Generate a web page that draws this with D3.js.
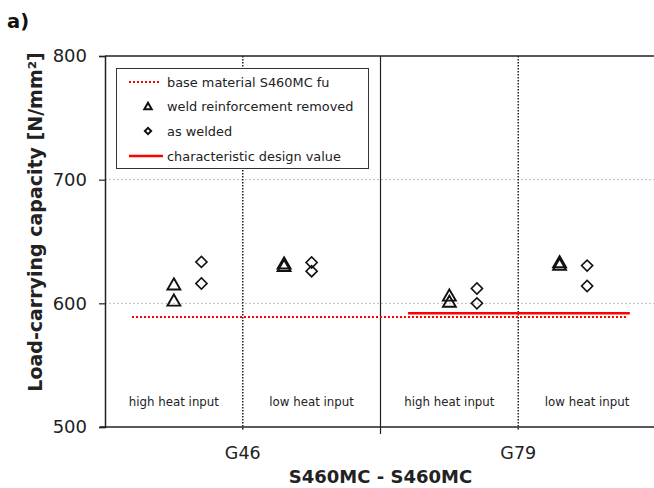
<!DOCTYPE html>
<html>
<head>
<meta charset="utf-8">
<script src="https://cdn.jsdelivr.net/npm/d3@7"></script>
<style>
  html, body { margin: 0; padding: 0; background: #fff; }
  svg { display: block; font-family: "DejaVu Sans", Verdana, sans-serif; }
</style>
</head>
<body>
<svg id="chart" width="654" height="488"></svg>
<script>
// Weld groups and the heat-input sections inside each group
const groups = ["G46", "G79"];
const sections = ["high heat input", "low heat input", "high heat input", "low heat input"];

// Load-carrying capacity [N/mm²] per section
const reinforcementRemoved = [[615, 602], [632, 630], [606, 601], [633, 631]];
const asWelded = [[633.5, 616], [633, 626], [612, 600], [630.5, 614]];

// Reference levels
const baseMaterialFu = 589;
const designValue = 592;

const yTicks = [500, 600, 700, 800];

const svg = d3.select("#chart");
const margin = { left: 105, top: 56, right: -2, bottom: 61 };
const W = 654, H = 488;

const x = d3.scaleLinear().domain([0, 4]).range([margin.left, W - margin.right]);
const y = d3.scaleLinear().domain([500, 800]).range([H - margin.bottom, margin.top]);

// Horizontal position of each marker column within a section (section units)
const triSlot = i => i + (i % 2 === 0 ? 0.5 : 0.3);
const diaSlot = i => i + (i % 2 === 0 ? 0.7 : 0.5);

// Horizontal gridlines
svg.append("g").selectAll("line").data([600, 700]).join("line")
  .attr("x1", x(0)).attr("x2", x(4))
  .attr("y1", d => y(d)).attr("y2", d => y(d))
  .attr("stroke", "#bdbdbd").attr("stroke-width", 1).attr("stroke-dasharray", "2,2");

// Section separators: dotted inside a group, solid between groups
svg.append("g").selectAll("line").data([1, 3]).join("line")
  .attr("x1", d => x(d)).attr("x2", d => x(d))
  .attr("y1", y(800)).attr("y2", y(500) + 3)
  .attr("stroke", "#222").attr("stroke-width", 1.5).attr("stroke-dasharray", "1.5,1.5");
svg.append("line")
  .attr("x1", x(2)).attr("x2", x(2)).attr("y1", y(800)).attr("y2", y(500) + 7)
  .attr("stroke", "#222").attr("stroke-width", 1.2);

// Frame: top border and bottom axis
svg.append("line").attr("x1", x(0)).attr("x2", x(4)).attr("y1", y(800)).attr("y2", y(800))
  .attr("stroke", "#222").attr("stroke-width", 1.5);
svg.append("line").attr("x1", x(0) - 5).attr("x2", x(4)).attr("y1", y(500)).attr("y2", y(500))
  .attr("stroke", "#222").attr("stroke-width", 1.5);

// Y axis
const yAxis = d3.axisLeft(y).tickValues(yTicks).tickSize(6).tickPadding(12).tickFormat(d3.format("d"));
const gy = svg.append("g").attr("transform", `translate(${x(0)},0)`).call(yAxis);
gy.select(".domain").attr("stroke", "#222").attr("stroke-width", 1.5);
gy.selectAll(".tick line").attr("stroke", "#222").attr("stroke-width", 1.2);
gy.selectAll(".tick text").attr("font-size", 18).attr("fill", "#222")
  .attr("font-family", "DejaVu Sans, Verdana, sans-serif");

// Group labels under the axis
svg.append("g").selectAll("text").data(groups).join("text")
  .attr("x", (d, i) => x(1 + 2 * i)).attr("y", y(500) + 32)
  .attr("text-anchor", "middle").attr("font-size", 17.5).attr("fill", "#222")
  .text(d => d);

// Heat-input labels
svg.append("g").selectAll("text").data(sections).join("text")
  .attr("x", (d, i) => x(i + 0.5)).attr("y", y(500) - 21)
  .attr("text-anchor", "middle").attr("font-size", 11.8).attr("fill", "#222")
  .text(d => d);

// Reference lines
svg.append("line")
  .attr("x1", x(0.196)).attr("x2", x(3.79)).attr("y1", y(baseMaterialFu)).attr("y2", y(baseMaterialFu))
  .attr("stroke", "#f00").attr("stroke-width", 2).attr("stroke-dasharray", "2,2");
svg.append("line")
  .attr("x1", x(2.2)).attr("x2", x(3.81)).attr("y1", y(designValue)).attr("y2", y(designValue))
  .attr("stroke", "#f00").attr("stroke-width", 2.5);

// Markers
const tri = d3.symbol().type(d3.symbolTriangle).size(72);
const dia = d3.symbol().type(d3.symbolSquare).size(62);

const triPts = reinforcementRemoved.flatMap((vals, i) => vals.map(v => ({ i, v })));
const diaPts = asWelded.flatMap((vals, i) => vals.map(v => ({ i, v })));

svg.append("g").selectAll("path").data(triPts).join("path")
  .attr("d", tri)
  .attr("transform", d => `translate(${x(triSlot(d.i))},${y(d.v) + 1})`)
  .attr("fill", "none").attr("stroke", "#111").attr("stroke-width", 1.9);

svg.append("g").selectAll("path").data(diaPts).join("path")
  .attr("d", dia)
  .attr("transform", d => `translate(${x(diaSlot(d.i))},${y(d.v)}) rotate(45)`)
  .attr("fill", "none").attr("stroke", "#111").attr("stroke-width", 1.6);

// Legend
const lg = svg.append("g");
lg.append("rect").attr("x", 116.5).attr("y", 68.5).attr("width", 252).attr("height", 100)
  .attr("fill", "#fff").attr("stroke", "#333").attr("stroke-width", 1);
const rows = [82, 106, 131, 156];
const labels = ["base material S460MC fu", "weld reinforcement removed", "as welded", "characteristic design value"];
lg.selectAll("text").data(labels).join("text")
  .attr("x", 167).attr("y", (d, i) => rows[i] + 5)
  .attr("font-size", 12.9).attr("fill", "#222").text(d => d);
lg.append("line").attr("x1", 129).attr("x2", 161).attr("y1", rows[0]).attr("y2", rows[0])
  .attr("stroke", "#f00").attr("stroke-width", 2).attr("stroke-dasharray", "2,2");
lg.append("line").attr("x1", 129).attr("x2", 163).attr("y1", rows[3]).attr("y2", rows[3])
  .attr("stroke", "#f00").attr("stroke-width", 2.5);
lg.append("path").attr("d", d3.symbol().type(d3.symbolTriangle).size(24))
  .attr("transform", `translate(148,${rows[1] + 1})`)
  .attr("fill", "none").attr("stroke", "#111").attr("stroke-width", 2);
lg.append("path").attr("d", d3.symbol().type(d3.symbolSquare).size(20))
  .attr("transform", `translate(148,${rows[2]}) rotate(45)`)
  .attr("fill", "none").attr("stroke", "#111").attr("stroke-width", 2);

// Axis titles
svg.append("text")
  .attr("transform", `translate(42,222) rotate(-90)`)
  .attr("text-anchor", "middle").attr("font-size", 19).attr("font-weight", "bold").attr("fill", "#222")
  .text("Load-carrying capacity [N/mm²]");
svg.append("text")
  .attr("x", x(2)).attr("y", 483)
  .attr("text-anchor", "middle").attr("font-size", 18).attr("font-weight", "bold").attr("fill", "#222")
  .text("S460MC - S460MC");

// Panel tag
svg.append("text").attr("x", 7).attr("y", 28)
  .attr("font-size", 19.5).attr("font-weight", "bold").attr("fill", "#111").text("a)");
</script>
</body>
</html>
